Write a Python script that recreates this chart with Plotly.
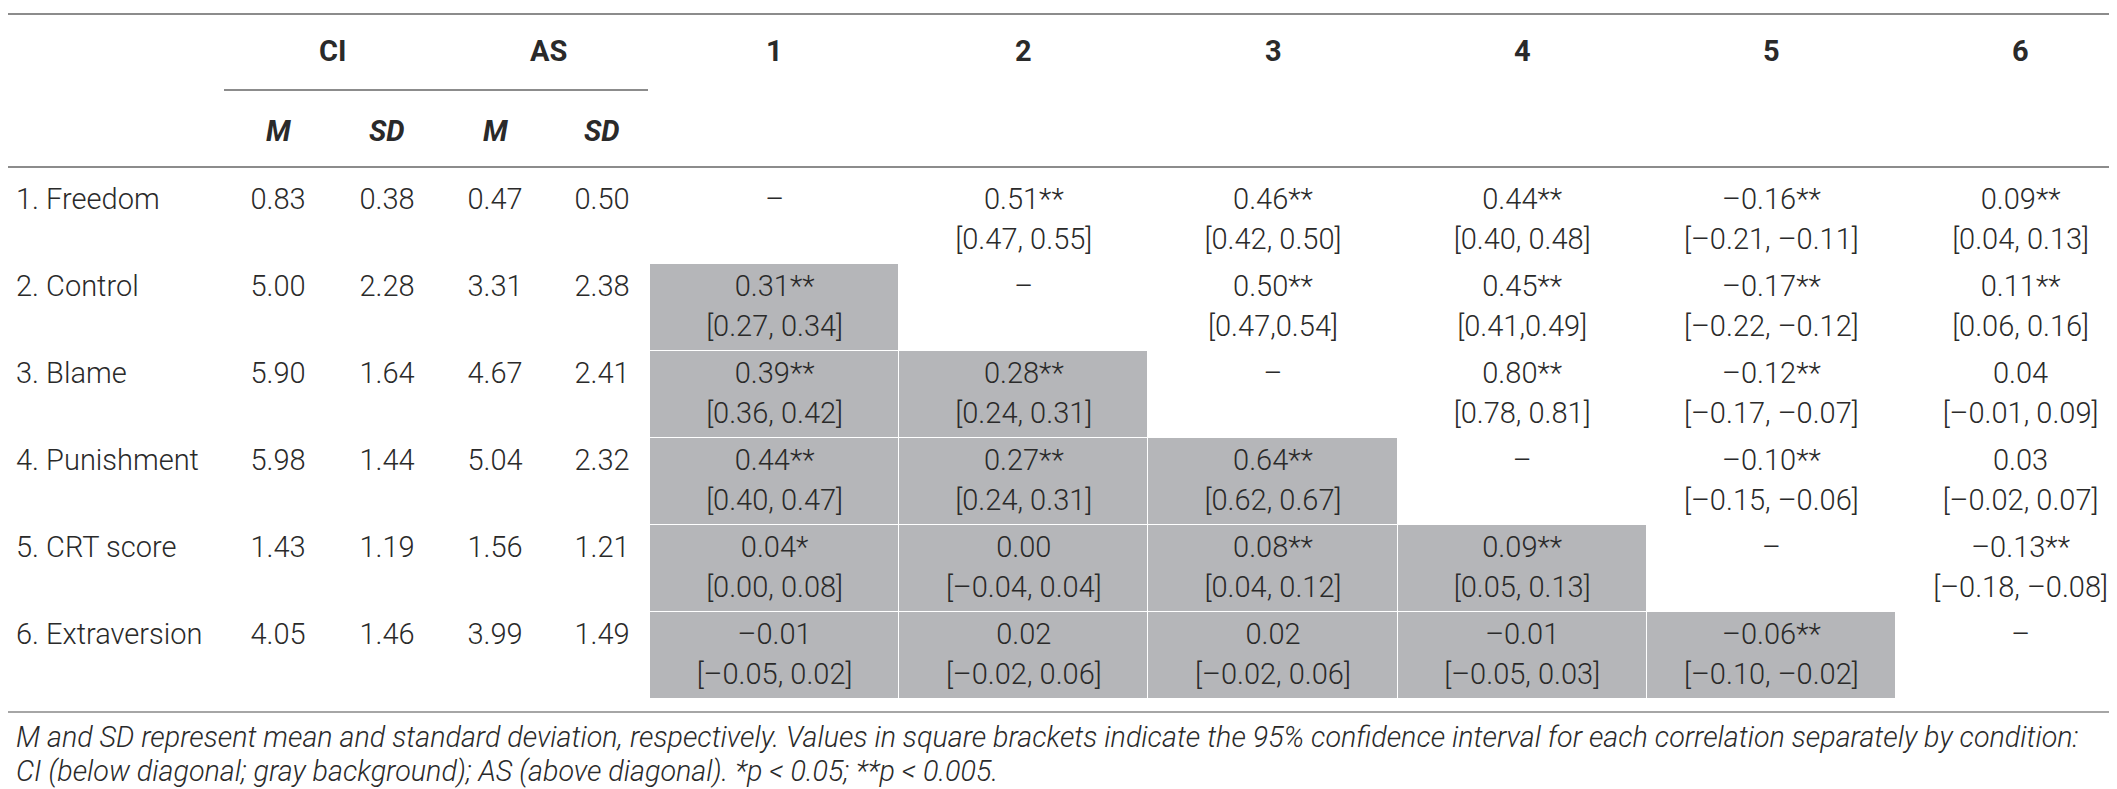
import plotly.graph_objects as go

# --- data -------------------------------------------------------------
variables = ["1. Freedom", "2. Control", "3. Blame", "4. Punishment",
             "5. CRT score", "6. Extraversion"]
ci_m = ["0.83", "5.00", "5.90", "5.98", "1.43", "4.05"]
ci_sd = ["0.38", "2.28", "1.64", "1.44", "1.19", "1.46"]
as_m = ["0.47", "3.31", "4.67", "5.04", "1.56", "3.99"]
as_sd = ["0.50", "2.38", "2.41", "2.32", "1.21", "1.49"]

# correlations (below diagonal = CI, above diagonal = AS)
r = [
    [None, 0.51, 0.46, 0.44, -0.16, 0.09],
    [0.31, None, 0.50, 0.45, -0.17, 0.11],
    [0.39, 0.28, None, 0.80, -0.12, 0.04],
    [0.44, 0.27, 0.64, None, -0.10, 0.03],
    [0.04, 0.00, 0.08, 0.09, None, -0.13],
    [-0.01, 0.02, 0.02, -0.01, -0.06, None],
]
stars = [
    ["", "**", "**", "**", "**", "**"],
    ["**", "", "**", "**", "**", "**"],
    ["**", "**", "", "**", "**", ""],
    ["**", "**", "**", "", "**", ""],
    ["*", "", "**", "**", "", "**"],
    ["", "", "", "", "**", ""],
]
ci95 = [
    ["", "[0.47, 0.55]", "[0.42, 0.50]", "[0.40, 0.48]", "[–0.21, –0.11]", "[0.04, 0.13]"],
    ["[0.27, 0.34]", "", "[0.47,0.54]", "[0.41,0.49]", "[–0.22, –0.12]", "[0.06, 0.16]"],
    ["[0.36, 0.42]", "[0.24, 0.31]", "", "[0.78, 0.81]", "[–0.17, –0.07]", "[–0.01, 0.09]"],
    ["[0.40, 0.47]", "[0.24, 0.31]", "[0.62, 0.67]", "", "[–0.15, –0.06]", "[–0.02, 0.07]"],
    ["[0.00, 0.08]", "[–0.04, 0.04]", "[0.04, 0.12]", "[0.05, 0.13]", "", "[–0.18, –0.08]"],
    ["[–0.05, 0.02]", "[–0.02, 0.06]", "[–0.02, 0.06]", "[–0.05, 0.03]", "[–0.10, –0.02]", ""],
]
col_heads = ["1", "2", "3", "4", "5", "6"]

note1 = ("M and SD represent mean and standard deviation, respectively. Values in square "
         "brackets indicate the 95% confidence interval for each correlation separately by condition:")
note2 = ("CI (below diagonal; gray background); AS (above diagonal). "
         "*p &lt; 0.05; **p &lt; 0.005.")

# --- layout geometry (pixels) ----------------------------------------
W, H = 2117, 789
stat_x = [270, 379, 487, 594]
col0 = 642
col_w = 249.2
corr_x = [col0 + col_w * (j + 0.5) for j in range(6)]
row_top = 169
row_h = 87
row_y = [row_top + row_h * (i + 0.5) for i in range(6)]
line1 = [y - 19 for y in row_y]
line2 = [y + 21 for y in row_y]

FONT = "Roboto"
TXT = "#2a2a2a"
GRAY = "#b5b6b9"
RULE = "#8c8c8c"
fs = 29

fig = go.Figure()

# gray background below the diagonal
z = [[1 if i > j else None for j in range(6)] for i in range(6)]
fig.add_trace(go.Heatmap(
    x=corr_x, y=row_y, z=z,
    colorscale=[[0, GRAY], [1, GRAY]], showscale=False,
    xgap=1, ygap=1, hoverinfo="skip",
))

def txt(xs, ys, texts, anchor="middle center", weight=300):
    fig.add_trace(go.Scatter(
        x=xs, y=ys, text=texts, mode="text", textposition=anchor,
        textfont=dict(family=FONT, size=fs, color=TXT, weight=weight),
        hoverinfo="skip", showlegend=False,
    ))

# row labels and descriptive stats
txt([8] * 6, line1, variables, anchor="middle right")
for xs, vals in zip(stat_x, [ci_m, ci_sd, as_m, as_sd]):
    txt([xs] * 6, line1, vals)

# correlation cells
def fmt(v):
    return f"{v:.2f}".replace("-", "–")

for j in range(6):
    top, bot = [], []
    for i in range(6):
        if r[i][j] is None:
            top.append("–")
            bot.append("")
        else:
            top.append(fmt(r[i][j]) + stars[i][j])
            bot.append(ci95[i][j])
    txt([corr_x[j]] * 6, line1, top)
    txt([corr_x[j]] * 6, line2, bot)

# headers
ann = []
def head(x, y, t, italic=False):
    s = f"<i>{t}</i>" if italic else t
    ann.append(dict(x=x, y=y, xref="x", yref="y", text=s, showarrow=False,
                    font=dict(family=FONT, size=fs, color=TXT, weight=700)))

head((stat_x[0] + stat_x[1]) / 2, 43, "CI")
head((stat_x[2] + stat_x[3]) / 2, 43, "AS")
for xs, t in zip(stat_x, ["M", "SD", "M", "SD"]):
    head(xs, 123, t, italic=True)
for xs, t in zip(corr_x, col_heads):
    head(xs, 43, t)

for y, t in [(729, note1), (763, note2)]:
    ann.append(dict(x=6, y=y, xref="x", yref="y", xanchor="left",
                    text=f"<i>{t}</i>", showarrow=False,
                    font=dict(family=FONT, size=28.7, color=TXT, weight=300)))

# horizontal rules
shapes = []
for y, x0, x1, c in [(6, 0, 2111, RULE), (82, 216, 640, RULE),
                     (159, 0, 2111, RULE), (704, 0, 2111, "#a6a6a6")]:
    shapes.append(dict(type="line", xref="x", yref="y", x0=x0, x1=x1, y0=y, y1=y,
                       line=dict(color=c, width=2)))

fig.update_layout(
    width=W, height=H,
    margin=dict(l=0, r=0, t=0, b=0),
    paper_bgcolor="white", plot_bgcolor="white",
    xaxis=dict(range=[0, W], visible=False, fixedrange=True),
    yaxis=dict(range=[H, 0], visible=False, fixedrange=True),
    annotations=ann, shapes=shapes, showlegend=False,
)

fig.write_html("out.html")
